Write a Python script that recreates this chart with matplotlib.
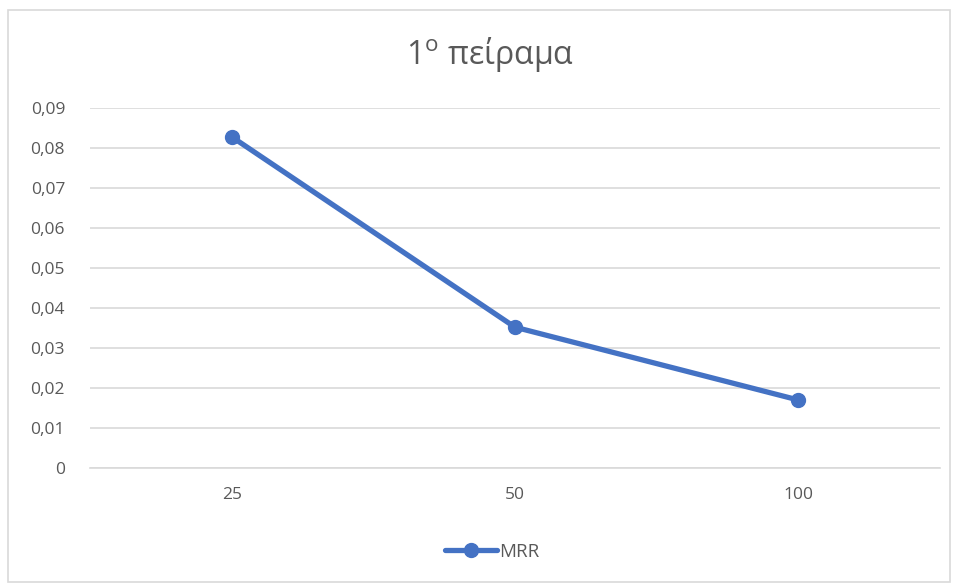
import matplotlib
matplotlib.use("Agg")
import matplotlib.pyplot as plt
from matplotlib.patches import Rectangle
from matplotlib.ticker import FuncFormatter

categories = ["25", "50", "100"]
mrr = [0.0828, 0.0352, 0.0170]
yticks = [0, 0.01, 0.02, 0.03, 0.04, 0.05, 0.06, 0.07, 0.08, 0.09]

plt.rcParams['font.family'] = ['Open Sans', 'DejaVu Sans']

fig = plt.figure(figsize=(9.58, 5.85), dpi=100)
ax = fig.add_axes([90/958, 1-468/585, 850/958, 360/585])

x = list(range(len(categories)))
ax.plot(x, mrr, color="#4472C4", linewidth=3.8, marker="o", markersize=10,
        solid_capstyle="round", label="MRR", zorder=3)

ax.set_xlim(-0.5, len(categories) - 0.5)
ax.set_ylim(0, 0.09)
ax.set_yticks(yticks)
ax.yaxis.set_major_formatter(FuncFormatter(lambda v, p: "0" if v == 0 else f"{v:.2f}".replace(".", ",")))
ax.set_xticks(x)
ax.set_xticklabels(categories)
ax.tick_params(axis="both", length=0, labelsize=12.5, labelcolor="#595959")
ax.tick_params(axis="y", pad=18)
ax.tick_params(axis="x", pad=14)
ax.grid(axis="y", color="#D9D9D9", linewidth=1.2)
ax.set_axisbelow(True)
for s in ["left", "right", "top"]:
    ax.spines[s].set_visible(False)
ax.spines["bottom"].set_color("#D9D9D9")
ax.spines["bottom"].set_linewidth(1.2)

fig.text(490/958, 1-55/585, r"1$^{\mathregular{ο}}$ πείραμα", ha="center", va="center",
         fontsize=23, color="#595959")

leg = fig.legend(loc="center", bbox_to_anchor=(492/958, 1-552/585), frameon=False,
                 fontsize=13.5, handlelength=2.8, handletextpad=0.1)
for t in leg.get_texts():
    t.set_color("#595959")

fig.patches.append(Rectangle((8/958, 3/585), 942/958, 572/585, transform=fig.transFigure,
                             fill=False, edgecolor="#D9D9D9", linewidth=1.2))

fig.savefig("out.png", dpi=100)
